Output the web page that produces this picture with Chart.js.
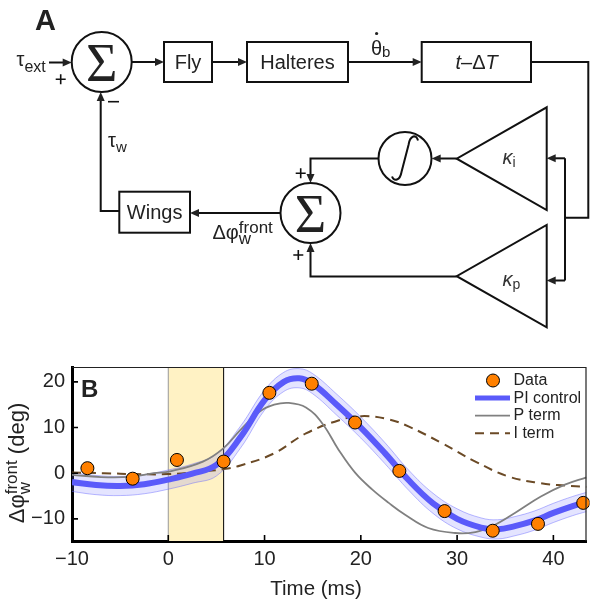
<!DOCTYPE html>
<html>
<head>
<meta charset="utf-8">
<script src="https://cdn.jsdelivr.net/npm/chart.js@4"></script>
<style>
  html, body { margin: 0; padding: 0; background: #fff; }
  #fig { display: block; }
</style>
</head>
<body>
<canvas id="fig" width="594" height="601"></canvas>
<script>
// measured wing response (panel B)
const dataTime = [-8.4, -3.7, 0.9, 5.75, 10.5, 14.9, 19.4, 24.0, 28.7, 33.7, 38.4, 43.1];
const dataPhi = [1.1, -1.2, 2.9, 2.55, 17.6, 19.6, 11.1, 0.5, -8.3, -12.6, -11.1, -6.5];

// PI model fit with its confidence band
const piTime = [-10, -7.5, -5, -2.5, 0, 2.5, 5, 7.5, 10, 12, 13.6, 15, 17.5, 20, 22.5, 25, 27.5, 30, 32.5, 34.2, 36, 38, 40, 42, 43.44];
const piPhi = [-1.95, -2.6, -2.8, -2.4, -1.4, -0.1, 1.8, 7.9, 16.0, 20.0, 20.8, 19.6, 15.0, 10.0, 4.4, -1.6, -6.6, -10.0, -11.9, -12.3, -11.6, -10.4, -8.7, -7.2, -6.3];
const piUpper = [0.1, -0.5, -0.7, -0.3, 0.7, 2.0, 4.2, 10.3, 18.2, 22.1, 22.9, 21.8, 17.3, 12.3, 6.7, 0.6, -4.4, -7.8, -9.8, -10.2, -9.5, -8.3, -6.6, -5.1, -4.2];
const piLower = [-4.0, -4.7, -4.9, -4.5, -3.5, -2.2, -0.6, 5.5, 13.8, 17.9, 18.7, 17.4, 12.7, 7.7, 2.1, -3.8, -8.8, -12.2, -14.0, -14.4, -13.7, -12.5, -10.8, -9.3, -8.4];

// proportional term
const pTime = [-10, -7, -4, -1.5, 0.2, 3.6, 5.75, 7.5, 9.5, 11, 12.5, 14.3, 16, 17.7, 19.45, 21.2, 22.9, 24.6, 27, 29.8, 31.9, 33.65, 36, 38.7, 41.2, 43.44];
const pPhi = [-0.35, -0.85, -0.8, 0.0, 0.4, 2.55, 5.5, 9.5, 13.5, 15.0, 15.4, 14.4, 10.9, 5.1, 0.0, -3.6, -6.5, -9.1, -12.0, -13.1, -12.9, -11.6, -8.7, -5.1, -2.5, -0.9];

// integral term
const iTime = [-10, -6.7, -3.3, 0, 3.6, 5.75, 7.5, 10.85, 14.3, 17.75, 20.1, 22.9, 25, 28.4, 31.9, 35.3, 38.7, 41.2, 43.44];
const iPhi = [0.15, 0.0, -0.2, -0.2, 0.4, 0.9, 1.7, 4.2, 8.7, 11.6, 12.5, 11.8, 10.2, 6.6, 2.55, -0.7, -2.2, -2.7, -3.0];

// stimulus window (ms)
const stimWindow = [0, 5.75];

const xTicks = [-10, 0, 10, 20, 30, 40];
const yTicks = [-10, 0, 10, 20];

const FONT = '"Liberation Sans", Arial, sans-serif';
const SERIF = '"Liberation Serif", "DejaVu Serif", serif';
const INK = '#222';
const ORANGE = '#ff8000';
const BLUE = 'rgb(90, 90, 250)';
const BAND_EDGE = 'rgba(100, 100, 255, 0.45)';
const BAND_FILL = 'rgba(120, 120, 255, 0.2)';

const pts = (xs, ys) => xs.map((x, i) => ({ x: x, y: ys[i] }));
const fmt = v => (v < 0 ? '\u2212' + Math.abs(v) : String(v));

// ---- small drawing helpers for the block diagram ----
function setFont(ctx, size, italic) {
  ctx.font = (italic ? 'italic ' : '') + size + 'px ' + FONT;
}

function run(ctx, x, y, parts) {
  let cx = x;
  for (const p of parts) {
    setFont(ctx, p.s, p.it);
    ctx.fillText(p.t, cx, y + (p.dy || 0));
    if (!p.stay) cx += ctx.measureText(p.t).width;
  }
  return cx - x;
}

function runWidth(ctx, parts) {
  let w = 0;
  for (const p of parts) {
    setFont(ctx, p.s, p.it);
    if (!p.stay) w += ctx.measureText(p.t).width;
  }
  return w;
}

function head(ctx, x, y, ang) {
  const L = 9, W = 4;
  ctx.beginPath();
  ctx.moveTo(x, y);
  ctx.lineTo(x - L * Math.cos(ang) + W * Math.sin(ang), y - L * Math.sin(ang) - W * Math.cos(ang));
  ctx.lineTo(x - L * Math.cos(ang) - W * Math.sin(ang), y - L * Math.sin(ang) + W * Math.cos(ang));
  ctx.closePath();
  ctx.fill();
}

function path(ctx, p, withHead) {
  const n = p.length;
  const a = Math.atan2(p[n - 1][1] - p[n - 2][1], p[n - 1][0] - p[n - 2][0]);
  ctx.beginPath();
  ctx.moveTo(p[0][0], p[0][1]);
  for (let i = 1; i < n - 1; i++) ctx.lineTo(p[i][0], p[i][1]);
  const end = withHead ? [p[n - 1][0] - 7 * Math.cos(a), p[n - 1][1] - 7 * Math.sin(a)] : p[n - 1];
  ctx.lineTo(end[0], end[1]);
  ctx.stroke();
  if (withHead) head(ctx, p[n - 1][0], p[n - 1][1], a);
}

function box(ctx, x, y, w, h, label) {
  ctx.strokeRect(x, y, w, h);
  if (label) {
    setFont(ctx, 20, false);
    ctx.textAlign = 'center';
    ctx.fillText(label, x + w / 2, y + h / 2 + 7);
    ctx.textAlign = 'left';
  }
}

function circle(ctx, x, y, r) {
  ctx.beginPath();
  ctx.arc(x, y, r, 0, Math.PI * 2);
  ctx.stroke();
}

function sigma(ctx, x, y) {
  ctx.font = '54px ' + SERIF;
  ctx.textAlign = 'center';
  ctx.fillText('\u03A3', x, y + 18.5);
  ctx.textAlign = 'left';
}

function tri(ctx, xr, yt, yb, xa) {
  ctx.beginPath();
  ctx.moveTo(xr, yt);
  ctx.lineTo(xr, yb);
  ctx.lineTo(xa, (yt + yb) / 2);
  ctx.closePath();
  ctx.stroke();
}

function plus(ctx, x, y) {
  ctx.save();
  ctx.lineWidth = 1.6;
  ctx.beginPath();
  ctx.moveTo(x - 5, y); ctx.lineTo(x + 5, y);
  ctx.moveTo(x, y - 5); ctx.lineTo(x, y + 5);
  ctx.stroke();
  ctx.restore();
}

const diagram = {
  id: 'diagram',
  afterDraw(chart) {
    const ctx = chart.ctx;
    ctx.save();
    ctx.strokeStyle = '#111';
    ctx.fillStyle = INK;
    ctx.lineWidth = 2;
    ctx.textBaseline = 'alphabetic';
    ctx.textAlign = 'left';

    // panel letters
    ctx.font = 'bold 29px ' + FONT;
    ctx.fillText('A', 35, 30);
    ctx.font = 'bold 24px ' + FONT;
    ctx.fillText('B', 81, 397);

    // forward path
    circle(ctx, 101.7, 62, 30);
    sigma(ctx, 101.7, 62);
    box(ctx, 164, 42, 48, 40, 'Fly');
    box(ctx, 247, 42, 101, 40, 'Halteres');
    box(ctx, 421.7, 42, 109.3, 40, null);
    run(ctx, 455.5, 69, [
      { t: 't', s: 20, it: true },
      { t: '\u2013', s: 20 },
      { t: '\u0394', s: 20 },
      { t: 'T', s: 20, it: true }
    ]);

    path(ctx, [[49, 62.5], [71.7, 62.5]], true);
    path(ctx, [[131.7, 62], [164, 62]], true);
    path(ctx, [[212, 62], [247, 62]], true);
    path(ctx, [[348, 62], [421.7, 62]], true);
    path(ctx, [[531, 62], [588.3, 62], [588.3, 217.7], [565, 217.7]], false);
    path(ctx, [[565, 158.3], [565, 280.5]], false);
    path(ctx, [[565, 158.3], [546.7, 158.3]], true);
    path(ctx, [[565, 280.5], [546.7, 280.5]], true);

    // tau_ext, theta-dot_b
    run(ctx, 16.5, 66, [{ t: '\u03C4', s: 20 }, { t: 'ext', s: 16, dy: 6 }]);
    plus(ctx, 60.7, 79.3);
    run(ctx, 371, 55, [{ t: '\u03B8', s: 20 }, { t: 'b', s: 15, dy: 2 }]);
    ctx.beginPath();
    ctx.arc(376.6, 33.5, 1.6, 0, Math.PI * 2);
    ctx.fill();

    // gains
    tri(ctx, 546.7, 107.3, 210, 456.7);
    tri(ctx, 546.7, 225, 327.3, 456.7);
    ctx.fillStyle = '#333';
    run(ctx, 502.5, 163.5, [{ t: '\u03BA', s: 20, it: true }, { t: 'i', s: 14, dy: 3 }]);
    run(ctx, 502.5, 285.5, [{ t: '\u03BA', s: 20, it: true }, { t: 'p', s: 14, dy: 3 }]);
    ctx.fillStyle = INK;

    // integrator
    path(ctx, [[456.7, 158.5], [431.7, 158.5]], true);
    circle(ctx, 405, 158.5, 26.5);
    ctx.beginPath();
    ctx.lineWidth = 2;
    ctx.moveTo(418, 140.5);
    ctx.bezierCurveTo(416.5, 134, 410, 135, 408.5, 145);
    ctx.lineTo(401.5, 172);
    ctx.bezierCurveTo(400, 181, 394, 181.5, 392, 176.5);
    ctx.stroke();

    // second summing junction
    path(ctx, [[378.5, 158.5], [310.5, 158.5], [310.5, 183]], true);
    path(ctx, [[456.7, 276.5], [310.5, 276.5], [310.5, 243]], true);
    circle(ctx, 310.5, 213, 30);
    sigma(ctx, 310.5, 213);
    plus(ctx, 300.7, 173.3);
    plus(ctx, 298.3, 255);

    // wings and feedback to first sum
    path(ctx, [[280.5, 213], [190, 213]], true);
    box(ctx, 119.3, 191.7, 70.7, 41, 'Wings');
    path(ctx, [[119.3, 211], [100.7, 211], [100.7, 92]], true);
    ctx.save();
    ctx.lineWidth = 1.6;
    ctx.beginPath();
    ctx.moveTo(108, 101.7); ctx.lineTo(119, 101.7);
    ctx.stroke();
    ctx.restore();
    run(ctx, 108, 147, [{ t: '\u03C4', s: 20 }, { t: 'w', s: 15, dy: 5 }]);
    run(ctx, 212.5, 238.5, [
      { t: '\u0394\u03C6', s: 20 },
      { t: 'w', s: 17, dy: 5, stay: true },
      { t: 'front', s: 17, dy: -5.5 }
    ]);
    ctx.restore();
  }
};

// stimulus window, frame, inward ticks, titles, legend
const decor = {
  id: 'decor',
  beforeDatasetsDraw(chart) {
    const { ctx, chartArea: a, scales: { x } } = chart;
    const x0 = x.getPixelForValue(stimWindow[0]);
    const x1 = x.getPixelForValue(stimWindow[1]);
    ctx.save();
    ctx.fillStyle = 'rgb(255, 242, 196)';
    ctx.fillRect(x0, a.top, x1 - x0, a.bottom - a.top);
    ctx.lineWidth = 1;
    ctx.strokeStyle = '#999';
    ctx.beginPath(); ctx.moveTo(x0, a.top); ctx.lineTo(x0, a.bottom); ctx.stroke();
    ctx.strokeStyle = '#000';
    ctx.beginPath(); ctx.moveTo(x1, a.top); ctx.lineTo(x1, a.bottom); ctx.stroke();
    ctx.restore();
  },
  afterDraw(chart) {
    const { ctx, chartArea: a, scales: { x, y } } = chart;
    ctx.save();
    ctx.strokeStyle = '#222';
    ctx.lineWidth = 1.2;
    ctx.beginPath();
    ctx.moveTo(a.left, a.top + 0.5); ctx.lineTo(a.right - 0.5, a.top + 0.5); ctx.lineTo(a.right - 0.5, a.bottom);
    ctx.stroke();
    ctx.strokeStyle = '#000';
    ctx.lineWidth = 1.6;
    ctx.beginPath();
    for (const v of xTicks) {
      const px = x.getPixelForValue(v);
      if (v > -10) { ctx.moveTo(px, a.bottom); ctx.lineTo(px, a.bottom - 6); }
    }
    for (const v of yTicks) {
      const py = y.getPixelForValue(v);
      ctx.moveTo(a.left, py); ctx.lineTo(a.left + 6, py);
    }
    ctx.stroke();

    // axis titles
    ctx.fillStyle = INK;
    ctx.textBaseline = 'alphabetic';
    setFont(ctx, 20.5, false);
    ctx.textAlign = 'center';
    ctx.fillText('Time (ms)', 316, 595);
    ctx.textAlign = 'left';
    const title = [
      { t: '\u0394\u03C6', s: 22 },
      { t: 'w', s: 17, dy: 6, stay: true },
      { t: 'front', s: 17, dy: -7 },
      { t: ' (deg)', s: 22 }
    ];
    const tw = runWidth(ctx, title);
    ctx.save();
    ctx.translate(23.5, 463);
    ctx.rotate(-Math.PI / 2);
    run(ctx, -tw / 2, 0, title);
    ctx.restore();

    // legend
    const ds = chart.data.datasets;
    for (let i = 0; i < 4; i++) {
      const d = ds[i];
      const ly = 380.5 + i * 17.6;
      if (i === 0) {
        ctx.beginPath();
        ctx.arc(493, ly, 6.5, 0, Math.PI * 2);
        ctx.fillStyle = d.pointBackgroundColor;
        ctx.fill();
        ctx.lineWidth = 1;
        ctx.strokeStyle = '#000';
        ctx.stroke();
      } else {
        ctx.beginPath();
        ctx.setLineDash(d.borderDash || []);
        ctx.strokeStyle = d.borderColor;
        ctx.lineWidth = Math.min(d.borderWidth, 5);
        ctx.moveTo(475, ly); ctx.lineTo(510, ly);
        ctx.stroke();
        ctx.setLineDash([]);
      }
      ctx.fillStyle = INK;
      setFont(ctx, 16, false);
      ctx.textBaseline = 'middle';
      ctx.fillText(d.label, 513.5, ly);
    }
    ctx.restore();
  }
};

const curve = { pointRadius: 0, tension: 0.4, fill: false };

new Chart(document.getElementById('fig'), {
  type: 'line',
  data: {
    datasets: [
      { label: 'Data', data: pts(dataTime, dataPhi), showLine: false, pointRadius: 6.5,
        pointBackgroundColor: ORANGE, pointBorderColor: '#000', pointBorderWidth: 1, order: 0, clip: 3 },
      Object.assign({ label: 'PI control', data: pts(piTime, piPhi), borderColor: BLUE, borderWidth: 6, order: 1 }, curve),
      Object.assign({ label: 'P term', data: pts(pTime, pPhi), borderColor: '#808080', borderWidth: 1.8, order: 2 }, curve),
      Object.assign({ label: 'I term', data: pts(iTime, iPhi), borderColor: '#6b4a26', borderWidth: 2, borderDash: [9, 6], order: 3 }, curve),
      Object.assign({ label: 'band low', data: pts(piTime, piLower), borderColor: BAND_EDGE, borderWidth: 1, order: 5 }, curve),
      Object.assign({ label: 'band high', data: pts(piTime, piUpper), borderColor: BAND_EDGE, borderWidth: 1, order: 4 }, curve, { fill: '-1', backgroundColor: BAND_FILL })
    ]
  },
  options: {
    responsive: false,
    animation: false,
    layout: { padding: { top: 367, right: 5, left: 0, bottom: 0 } },
    plugins: { legend: { display: false }, tooltip: { enabled: false } },
    scales: {
      x: {
        type: 'linear', min: -10, max: 43.44,
        afterBuildTicks: s => { s.ticks = xTicks.map(v => ({ value: v })); },
        afterFit: s => { s.height = 60; },
        ticks: { font: { family: FONT, size: 20 }, color: INK, padding: 6, maxRotation: 0, autoSkip: false, callback: fmt },
        grid: { display: false, drawTicks: false },
        border: { display: true, width: 3, color: '#000' }
      },
      y: {
        min: -14.85, max: 23.26,
        afterBuildTicks: s => { s.ticks = yTicks.map(v => ({ value: v })); },
        afterFit: s => { s.width = 72; },
        ticks: { font: { family: FONT, size: 20 }, color: INK, padding: 7, autoSkip: false, callback: fmt },
        grid: { display: false, drawTicks: false },
        border: { display: true, width: 3, color: '#000' }
      }
    }
  },
  plugins: [decor, diagram]
});
</script>
</body>
</html>
